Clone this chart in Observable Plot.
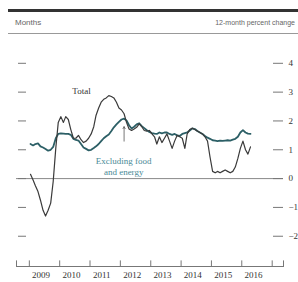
<!DOCTYPE html>
<html>
<head>
<meta charset="utf-8">
<script src="https://cdn.jsdelivr.net/npm/d3@7"></script>
<script src="https://cdn.jsdelivr.net/npm/@observablehq/plot@0.6"></script>
<style>
  html, body { margin: 0; padding: 0; background: #fff; overflow: hidden; width: 298px; height: 282px; }
  #hdr { position: relative; width: 298px; height: 35px; font-family: "Liberation Sans", sans-serif; font-size: 8px; color: #666; }
  #hdr .thick { position: absolute; left: 8px; right: 0; top: 9px; height: 3px; background: #333; }
  #hdr .thin { position: absolute; left: 8px; right: 0; top: 33px; height: 1px; background: #999; }
  #hdr .l { position: absolute; left: 15px; top: 18px; white-space: nowrap; color: #666; }
  #hdr .r { position: absolute; right: 3px; top: 19px; white-space: nowrap; color: #666; font-size: 7px; }
  #chart svg { display: block; }
</style>
</head>
<body>
<div id="hdr">
  <div class="thick"></div>
  <div class="l">Months</div>
  <div class="r">12-month percent change</div>
  <div class="thin"></div>
</div>
<div id="chart"></div>
<script>
// Monthly series, Jan 2009 – Apr 2016 (12-month percent change)
const startYear = 2009, startMonth = 0;
const total = [
  0.15, -0.05, -0.25, -0.45, -0.75, -1.1, -1.3, -1.1, -0.85, -0.1,
  1.05, 1.95, 2.15, 1.95, 2.15, 2.05, 1.7, 1.4, 1.4, 1.5,
  1.35, 1.25, 1.3, 1.4, 1.55, 1.8, 2.2, 2.45, 2.65, 2.75,
  2.8, 2.88, 2.85, 2.8, 2.65, 2.45, 2.38, 2.25, 1.95, 1.72,
  1.67, 1.72, 1.78, 1.9, 1.8, 1.67, 1.65, 1.67, 1.55, 1.45,
  1.2, 1.45, 1.25, 1.4, 1.55, 1.3, 1.05, 1.3, 1.5, 1.45,
  1.4, 1.05, 1.55, 1.7, 1.75, 1.7, 1.65, 1.6, 1.55, 1.45,
  1.3, 0.75, 0.25, 0.2, 0.25, 0.2, 0.25, 0.3, 0.25, 0.2,
  0.25, 0.4, 0.7, 1.05, 1.3, 1.0, 0.85, 1.1
];
const core = [
  1.2, 1.15, 1.2, 1.22, 1.12, 1.08, 1.03, 0.97, 1.0, 1.1,
  1.4, 1.55, 1.57, 1.56, 1.55, 1.55, 1.52, 1.38, 1.34, 1.32,
  1.2, 1.08, 1.03, 0.98, 1.0, 1.06, 1.12, 1.2, 1.3, 1.4,
  1.47, 1.53, 1.65, 1.78, 1.88, 1.97, 2.05, 2.08, 2.02, 1.85,
  1.74, 1.8, 1.88, 1.92, 1.82, 1.75, 1.68, 1.62, 1.58, 1.56,
  1.55, 1.6, 1.57, 1.6, 1.6, 1.55, 1.52, 1.55, 1.5, 1.48,
  1.55, 1.58, 1.6, 1.67, 1.74, 1.72, 1.65, 1.6, 1.55, 1.48,
  1.42, 1.38, 1.33, 1.32, 1.3, 1.32, 1.31, 1.32, 1.33, 1.32,
  1.35, 1.38, 1.45, 1.6, 1.68, 1.6, 1.56, 1.55
];
const yTicks = [4, 3, 2, 1, 0, -1, -2];
const yearLabels = [2009, 2010, 2011, 2012, 2013, 2014, 2015, 2016];

const rows = total.map((t, i) => ({
  date: new Date(Date.UTC(startYear, startMonth + i, 15)),
  total: t,
  core: core[i]
}));

// x scale layout: first/last month positions in pixels
const d0 = rows[0].date, d1 = rows[rows.length - 1].date;
const pxPerMs = 220 / (d1 - d0);
const xDomain = [new Date(+d0 - 14 / pxPerMs), new Date(+d1 + 33 / pxPerMs)];

const yearStarts = yearLabels.map(y => new Date(Date.UTC(y, 0, 1))).concat([new Date(Date.UTC(2017, 0, 1))]);
const labelDates = yearLabels.map(y => new Date(Date.UTC(y, 4, 22)));

const labels = [
  {date: new Date(Date.UTC(2010, 8, 20)), value: 3.06, text: "Total", color: "#333"},
  {date: new Date(Date.UTC(2012, 1, 10)), value: 0.44, text: "Excluding food\nand energy", color: "#4a8a96"}
];
const arrows = [{date: new Date(Date.UTC(2012, 1, 15)), from: 1.3, to: 1.8}];

const chart = Plot.plot({
  width: 298,
  height: 247,
  marginLeft: 16,
  marginRight: 15,
  marginTop: 13.4,
  marginBottom: 16,
  x: {type: "utc", domain: xDomain},
  y: {domain: [-3.05, 4.5]},
  style: {fontFamily: "'Liberation Serif', serif", fontSize: "9px", color: "#333", background: "#fff"},
  marks: [
    Plot.frame({anchor: "bottom", stroke: "#777"}),
    Plot.ruleY([0], {stroke: "#888", strokeWidth: 1}),
    Plot.tickY(yTicks, {insetLeft: 2, insetRight: 257, stroke: "#777"}),
    Plot.tickY(yTicks, {insetLeft: 257, stroke: "#777"}),
    Plot.tickX(yearStarts, {insetTop: 212, stroke: "#777"}),
    Plot.tickX(xDomain, {insetTop: 212, stroke: "#777"}),
    Plot.axisY(yTicks, {anchor: "right", tickSize: 0, tickPadding: 5, tickFormat: d => (d < 0 ? "\u2212" + Math.abs(d) : String(d)), fill: "#333"}),
    Plot.axisX(labelDates, {anchor: "bottom", tickSize: 0, tickPadding: 5, tickFormat: d => String(d.getUTCFullYear()), fill: "#333"}),
    Plot.line(rows, {x: "date", y: "core", stroke: "#2c5f66", strokeWidth: 1.8}),
    Plot.line(rows, {x: "date", y: "total", stroke: "#3a3a3a", strokeWidth: 1.2}),
    Plot.arrow(arrows, {x1: "date", x2: "date", y1: "from", y2: "to", stroke: "#555", strokeWidth: 0.8, headLength: 4}),
    Plot.text(labels, {x: "date", y: "value", text: "text", fill: "color", lineHeight: 1.2, fontSize: 9})
  ]
});
document.getElementById("chart").appendChild(chart);
</script>
</body>
</html>
